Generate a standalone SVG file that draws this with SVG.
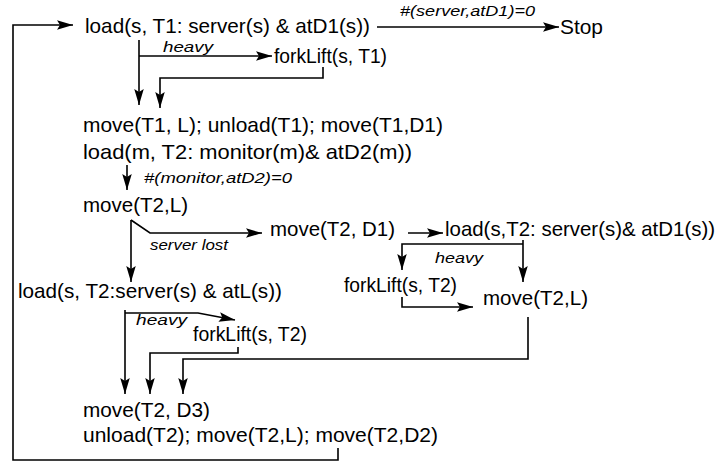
<svg xmlns="http://www.w3.org/2000/svg" width="721" height="464" viewBox="0 0 721 464">
<style>
.t{font-family:"Liberation Sans",Arial,sans-serif;font-size:21px;fill:#000}
.l{font-family:"Liberation Sans",Arial,sans-serif;font-size:15px;font-style:italic;fill:#000}
.c{fill:none;stroke:#000;stroke-width:1.6}
</style>
<defs>
<marker id="ah" markerUnits="userSpaceOnUse" markerWidth="17" markerHeight="10" refX="16" refY="4.75" orient="auto" overflow="visible">
<path d="M0,0 L16,4.75 L0,9.5 L3,4.75 z" fill="#000"/>
</marker>
</defs>
<rect width="721" height="464" fill="#fff"/>
<g id="connectors">
<path class="c" d="M338,448 V460 H13 V25 H73" marker-end="url(#ah)"/>
<path class="c" d="M377,27 H559" marker-end="url(#ah)"/>
<path class="c" d="M139,40 V105" marker-end="url(#ah)"/>
<path class="c" d="M139,56 H272" marker-end="url(#ah)"/>
<path class="c" d="M323,67 V78 H160 V108" marker-end="url(#ah)"/>
<path class="c" d="M127,165 V190" marker-end="url(#ah)"/>
<path class="c" d="M131,220 V282" marker-end="url(#ah)"/>
<path class="c" d="M131,220 L150,233 H262" marker-end="url(#ah)"/>
<path class="c" d="M408,233 H443" marker-end="url(#ah)"/>
<path class="c" d="M523,240 V282" marker-end="url(#ah)"/>
<path class="c" d="M523,244 H402 V270" marker-end="url(#ah)"/>
<path class="c" d="M402,297 V307 H473" marker-end="url(#ah)"/>
<path class="c" d="M528,317 V359 H183 V394" marker-end="url(#ah)"/>
<path class="c" d="M125,310 V394" marker-end="url(#ah)"/>
<path class="c" d="M125,313 H198 L235,320" marker-end="url(#ah)"/>
<path class="c" d="M238,347 V353 H150 V394" marker-end="url(#ah)"/>
<text class="l" x="400" y="16" textLength="135" lengthAdjust="spacingAndGlyphs">#(server,atD1)=0</text>
<text class="l" x="163" y="52" textLength="50" lengthAdjust="spacingAndGlyphs">heavy</text>
<text class="l" x="144" y="183" textLength="148" lengthAdjust="spacingAndGlyphs">#(monitor,atD2)=0</text>
<text class="l" x="150" y="250" textLength="78" lengthAdjust="spacingAndGlyphs">server lost</text>
<text class="l" x="435" y="263" textLength="48" lengthAdjust="spacingAndGlyphs">heavy</text>
<text class="l" x="136" y="325" textLength="51" lengthAdjust="spacingAndGlyphs">heavy</text>
</g>
<g id="n_load1"><text class="t" x="85" y="33" textLength="285" lengthAdjust="spacingAndGlyphs">load(s, T1: server(s) &amp; atD1(s))</text></g>
<g id="n_stop"><text class="t" x="560" y="34" textLength="43" lengthAdjust="spacingAndGlyphs">Stop</text></g>
<g id="n_fork1"><text class="t" x="274" y="63" textLength="113" lengthAdjust="spacingAndGlyphs">forkLift(s, T1)</text></g>
<g id="n_move1"><text class="t" x="83" y="132" textLength="360" lengthAdjust="spacingAndGlyphs">move(T1, L); unload(T1); move(T1,D1)</text></g>
<g id="n_loadm"><text class="t" x="83" y="159" textLength="329" lengthAdjust="spacingAndGlyphs">load(m, T2: monitor(m)&amp; atD2(m))</text></g>
<g id="n_moveT2L"><text class="t" x="83" y="212" textLength="105" lengthAdjust="spacingAndGlyphs">move(T2,L)</text></g>
<g id="n_moveT2D1"><text class="t" x="270" y="236" textLength="125" lengthAdjust="spacingAndGlyphs">move(T2, D1)</text></g>
<g id="n_load2"><text class="t" x="445" y="236" textLength="270" lengthAdjust="spacingAndGlyphs">load(s,T2: server(s)&amp; atD1(s))</text></g>
<g id="n_fork2"><text class="t" x="344" y="292" textLength="113" lengthAdjust="spacingAndGlyphs">forkLift(s, T2)</text></g>
<g id="n_moveT2L2"><text class="t" x="483" y="305" textLength="105" lengthAdjust="spacingAndGlyphs">move(T2,L)</text></g>
<g id="n_load3"><text class="t" x="18" y="298" textLength="264" lengthAdjust="spacingAndGlyphs">load(s, T2:server(s) &amp; atL(s))</text></g>
<g id="n_fork3"><text class="t" x="193" y="341" textLength="114" lengthAdjust="spacingAndGlyphs">forkLift(s, T2)</text></g>
<g id="n_moveD3"><text class="t" x="83" y="417" textLength="127" lengthAdjust="spacingAndGlyphs">move(T2, D3)</text></g>
<g id="n_unload"><text class="t" x="83" y="442" textLength="355" lengthAdjust="spacingAndGlyphs">unload(T2); move(T2,L); move(T2,D2)</text></g>
</svg>
